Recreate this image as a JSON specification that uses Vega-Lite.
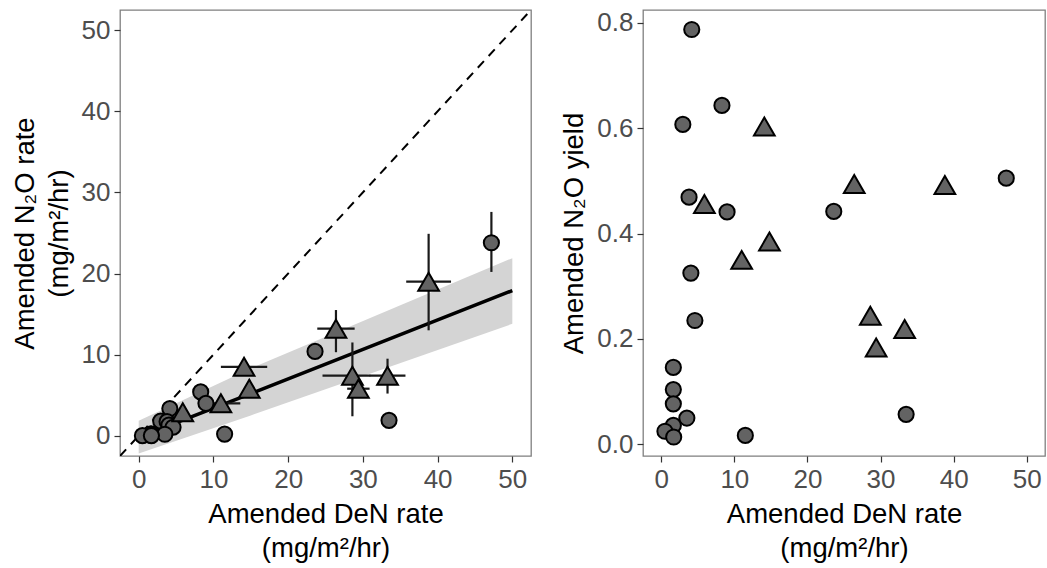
{
  "$schema": "https://vega.github.io/schema/vega-lite/v6.json",
  "background": "white",
  "padding": {"left": 10, "top": 9, "right": 2, "bottom": 0},
  "spacing": 28,
  "config": {
    "font": "Liberation Sans",
    "view": {"stroke": "#7f7f7f", "strokeWidth": 1.3},
    "axis": {
      "grid": false, "domain": false,
      "tickColor": "#333333", "tickSize": 6, "tickWidth": 1.2,
      "labelFont": "Liberation Sans", "labelFontSize": 26, "labelColor": "#4d4d4d", "labelPadding": 4,
      "titleFont": "Liberation Sans", "titleFontSize": 27.5, "titleFontWeight": "normal", "titleColor": "black",
      "titleLineHeight": 34, "titlePadding": 8
    }
  },
  "datasets": {
    "pts": [
      {"den": 4.17, "n2o": 3.35, "yield": 0.787, "type": "circle"},
      {"den": 2.95, "n2o": 1.8, "yield": 0.607, "type": "circle"},
      {"den": 8.3, "n2o": 5.4, "yield": 0.643, "type": "circle"},
      {"den": 3.8, "n2o": 1.75, "yield": 0.469, "type": "circle"},
      {"den": 9.0, "n2o": 4.0, "yield": 0.441, "type": "circle"},
      {"den": 23.6, "n2o": 10.4, "yield": 0.442, "type": "circle"},
      {"den": 47.2, "n2o": 23.8, "yield": 0.505, "type": "circle", "n2o_lo": 20.2, "n2o_hi": 27.6},
      {"den": 4.05, "n2o": 1.3, "yield": 0.325, "type": "circle"},
      {"den": 4.6, "n2o": 1.05, "yield": 0.235, "type": "circle"},
      {"den": 33.5, "n2o": 1.9, "yield": 0.057, "type": "circle"},
      {"den": 11.5, "n2o": 0.2, "yield": 0.017, "type": "circle"},
      {"den": 1.65, "n2o": 0.24, "yield": 0.146, "type": "circle"},
      {"den": 1.65, "n2o": 0.17, "yield": 0.104, "type": "circle"},
      {"den": 1.65, "n2o": 0.13, "yield": 0.077, "type": "circle"},
      {"den": 3.5, "n2o": 0.18, "yield": 0.05, "type": "circle"},
      {"den": 1.65, "n2o": 0.06, "yield": 0.036, "type": "circle"},
      {"den": 0.5, "n2o": 0.01, "yield": 0.025, "type": "circle"},
      {"den": 1.7, "n2o": 0.02, "yield": 0.014, "type": "circle"},
      {"den": 14.1, "n2o": 8.5, "yield": 0.603, "type": "triangle", "den_lo": 11.0, "den_hi": 17.2},
      {"den": 14.8, "n2o": 5.8, "yield": 0.385, "type": "triangle", "n2o_lo": 4.7, "n2o_hi": 6.9},
      {"den": 11.0, "n2o": 4.0, "yield": 0.35, "type": "triangle", "den_lo": 8.6, "den_hi": 13.6},
      {"den": 5.9, "n2o": 2.9, "yield": 0.456, "type": "triangle"},
      {"den": 26.4, "n2o": 13.2, "yield": 0.494, "type": "triangle", "den_lo": 23.9, "den_hi": 28.9, "n2o_lo": 10.3, "n2o_hi": 15.5},
      {"den": 28.6, "n2o": 7.4, "yield": 0.244, "type": "triangle", "den_lo": 24.6, "den_hi": 31.0, "n2o_lo": 2.4, "n2o_hi": 11.5},
      {"den": 29.4, "n2o": 5.8, "yield": 0.184, "type": "triangle", "den_lo": 27.9, "den_hi": 30.9},
      {"den": 33.3, "n2o": 7.4, "yield": 0.219, "type": "triangle", "den_lo": 30.9, "den_hi": 35.7, "n2o_lo": 5.2, "n2o_hi": 9.5},
      {"den": 38.8, "n2o": 19.0, "yield": 0.492, "type": "triangle", "den_lo": 35.8, "den_hi": 41.8, "n2o_lo": 13.0, "n2o_hi": 24.9}
    ],
    "fit": [
      {"den": 0, "fit": -0.2, "lo": -2.2, "hi": 1.85},
      {"den": 15, "fit": 5.2, "lo": 2.5, "hi": 8.3},
      {"den": 50, "fit": 17.9, "lo": 13.8, "hi": 21.9}
    ],
    "diag": [
      {"den": -2.5, "n2o": -2.5},
      {"den": 52.5, "n2o": 52.5}
    ]
  },
  "hconcat": [
    {
      "width": 411,
      "height": 446,
      "layer": [
        {
          "data": {"name": "fit"},
          "mark": {"type": "area", "color": "#d4d4d4", "opacity": 1, "clip": true},
          "encoding": {
            "x": {"field": "den", "type": "quantitative", "scale": {"domain": [-2.5, 52.5], "nice": false, "zero": false},
                  "axis": {"values": [0, 10, 20, 30, 40, 50]}, "title": ["Amended DeN rate", "(mg/m²/hr)"]},
            "y": {"field": "lo", "type": "quantitative", "scale": {"domain": [-2.5, 52.5], "nice": false, "zero": false},
                  "axis": {"values": [0, 10, 20, 30, 40, 50]}, "title": ["Amended N₂O rate", "(mg/m²/hr)"]},
            "y2": {"field": "hi"}
          }
        },
        {
          "data": {"name": "diag"},
          "mark": {"type": "line", "color": "black", "strokeWidth": 2, "strokeDash": [9, 7], "clip": true},
          "encoding": {
            "x": {"field": "den", "type": "quantitative", "title": ["Amended DeN rate", "(mg/m²/hr)"]},
            "y": {"field": "n2o", "type": "quantitative", "title": ["Amended N₂O rate", "(mg/m²/hr)"]}
          }
        },
        {
          "data": {"name": "fit"},
          "mark": {"type": "line", "color": "black", "strokeWidth": 3.5, "clip": true},
          "encoding": {
            "x": {"field": "den", "type": "quantitative", "title": ["Amended DeN rate", "(mg/m²/hr)"]},
            "y": {"field": "fit", "type": "quantitative", "title": ["Amended N₂O rate", "(mg/m²/hr)"]}
          }
        },
        {
          "data": {"name": "pts"},
          "transform": [{"filter": "isValid(datum.n2o_lo)"}],
          "mark": {"type": "rule", "color": "#1a1a1a", "strokeWidth": 2.2},
          "encoding": {
            "x": {"field": "den", "type": "quantitative", "title": ["Amended DeN rate", "(mg/m²/hr)"]},
            "y": {"field": "n2o_lo", "type": "quantitative", "title": ["Amended N₂O rate", "(mg/m²/hr)"]},
            "y2": {"field": "n2o_hi"}
          }
        },
        {
          "data": {"name": "pts"},
          "transform": [{"filter": "isValid(datum.den_lo)"}],
          "mark": {"type": "rule", "color": "#1a1a1a", "strokeWidth": 2.2},
          "encoding": {
            "x": {"field": "den_lo", "type": "quantitative", "title": ["Amended DeN rate", "(mg/m²/hr)"]},
            "x2": {"field": "den_hi"},
            "y": {"field": "n2o", "type": "quantitative", "title": ["Amended N₂O rate", "(mg/m²/hr)"]}
          }
        },
        {
          "data": {"name": "pts"},
          "mark": {"type": "point", "filled": true, "fill": "#636363", "stroke": "black", "strokeWidth": 2, "opacity": 1},
          "encoding": {
            "x": {"field": "den", "type": "quantitative", "title": ["Amended DeN rate", "(mg/m²/hr)"]},
            "y": {"field": "n2o", "type": "quantitative", "title": ["Amended N₂O rate", "(mg/m²/hr)"]},
            "shape": {"field": "type", "type": "nominal", "scale": {"domain": ["circle", "triangle"], "range": ["circle", "triangle-up"]}, "legend": null},
            "size": {"field": "type", "type": "nominal", "scale": {"domain": ["circle", "triangle"], "range": [230, 430]}, "legend": null}
          }
        }
      ]
    },
    {
      "width": 402,
      "height": 446,
      "data": {"name": "pts"},
      "mark": {"type": "point", "filled": true, "fill": "#636363", "stroke": "black", "strokeWidth": 2, "opacity": 1},
      "encoding": {
        "x": {"field": "den", "type": "quantitative", "scale": {"domain": [-2.5, 52.5], "nice": false, "zero": false},
              "axis": {"values": [0, 10, 20, 30, 40, 50]}, "title": ["Amended DeN rate", "(mg/m²/hr)"]},
        "y": {"field": "yield", "type": "quantitative", "scale": {"domain": [-0.022, 0.824], "nice": false, "zero": false},
              "axis": {"values": [0, 0.2, 0.4, 0.6, 0.8], "format": ".1f"}, "title": "Amended N₂O yield"},
        "shape": {"field": "type", "type": "nominal", "scale": {"domain": ["circle", "triangle"], "range": ["circle", "triangle-up"]}, "legend": null},
        "size": {"field": "type", "type": "nominal", "scale": {"domain": ["circle", "triangle"], "range": [230, 430]}, "legend": null}
      }
    }
  ]
}
